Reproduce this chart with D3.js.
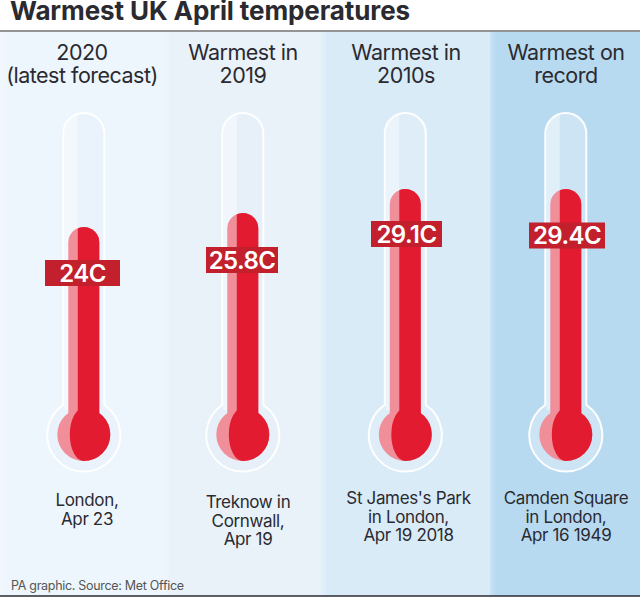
<!DOCTYPE html>
<meta charset="utf-8">
<style>
html, body { margin: 0; background: #fff; }
svg { display: block; }
text { font-family: Inter, "Liberation Sans", sans-serif; fill: #2a2a30; }
.title { font-size: 26px; font-weight: 700; letter-spacing: -0.1px; }
.head { font-size: 21.5px; font-weight: 400; text-anchor: middle; letter-spacing: -0.5px; }
.place { font-size: 17px; font-weight: 400; text-anchor: middle; letter-spacing: -0.35px; }
.temp { font-size: 24px; font-weight: 600; text-anchor: middle; fill: #fff; letter-spacing: -0.6px; }
.source { font-size: 12.5px; fill: #555; letter-spacing: -0.3px; }
</style>

<svg class="chart" width="640" height="600"></svg>
<script src="https://d3js.org/d3.v7.min.js"></script>

<script>

var categories = ["2020", "2019", "2010s", "record"];
var temps = [24, 25.8, 29.1, 29.4];
var tempLabels = ["24C", "25.8C", "29.1C", "29.4C"];
var headLines = [
  ["2020", "(latest forecast)"],
  ["Warmest in", "2019"],
  ["Warmest in", "2010s"],
  ["Warmest on", "record"]
];
var placeLines = [
  ["London,", "Apr 23"],
  ["Treknow in", "Cornwall,", "Apr 19"],
  ["St James's Park", "in London,", "Apr 19 2018"],
  ["Camden Square", "in London,", "Apr 16 1949"]
];

var width = 640, panelTop = 32, panelBottom = 596;
var bulbY = 434.5, bulbR = 26.5, ringR = 36.5, glassW = 20.5, glassTop = 113;
var tubeW = 15.5, tubeBottom = 420;

// panels and thermometers are not quite evenly spaced in the picture
var panelLeft = d3.scaleOrdinal().domain(categories).range([0, 166, 321, 490]);
var panelRight = d3.scaleOrdinal().domain(categories).range([166, 321, 490, width]);
var panelFill = d3.scaleOrdinal().domain(categories).range(["#eef6fd", "#e9f1f9", "#daebf8", "#b8daf1"]);
var cx = d3.scaleOrdinal().domain(categories).range([83.8, 242.8, 405.3, 565.8]);
var headX = d3.scaleOrdinal().domain(categories).range([82, 243, 406, 566]);
var placeX = d3.scaleOrdinal().domain(categories).range([87, 248, 408.5, 566]);
var placeY = d3.scaleOrdinal().domain(categories).range([506, 508, 504, 504]);
var tagLeft = d3.scaleOrdinal().domain(categories).range([45, 206, 371, 529]);
var tagRight = d3.scaleOrdinal().domain(categories).range([120, 278, 442, 605]);
var tagDrop = d3.scaleOrdinal().domain(categories).range([33, 34, 32, 33.5]);

// the graphic is not strictly linear, the two top values share one level
var y = d3.scaleLinear().domain([24, 25.8, 29.1, 29.4]).range([227, 213, 189, 189]);

var svg = d3.select(".chart");
var defs = svg.append("defs");

var lead = defs.append("linearGradient").attr("id", "edge");
lead.append("stop").attr("offset", "0").attr("stop-color", "#fff").attr("stop-opacity", 0.25);
lead.append("stop").attr("offset", "0.04").attr("stop-color", "#fff").attr("stop-opacity", 0);

svg.append("text").attr("class", "title").attr("x", 10).attr("y", 20).text("Warmest UK April temperatures");

var panels = svg.selectAll("g.panel")
    .data(categories)
  .enter().append("g")
    .attr("class", "panel");

panels.append("rect")
    .attr("x", panelLeft)
    .attr("y", panelTop)
    .attr("width", function(c) { return panelRight(c) - panelLeft(c); })
    .attr("height", panelBottom - panelTop)
    .attr("fill", panelFill);

panels.append("rect")
    .attr("x", panelLeft)
    .attr("y", panelTop)
    .attr("width", function(c) { return panelRight(c) - panelLeft(c); })
    .attr("height", panelBottom - panelTop)
    .attr("fill", "url(#edge)");

svg.append("line").attr("x1", 0).attr("x2", width).attr("y1", 31).attr("y2", 31)
    .attr("stroke", "#2a2a30").attr("stroke-width", 1.2);
svg.append("line").attr("x1", 0).attr("x2", width).attr("y1", panelBottom).attr("y2", panelBottom)
    .attr("stroke", "#2a2a30").attr("stroke-width", 1.4);

// glass outline, tube running into the bulb ring
function glassPath(c) {
  var x = cx(c), cy = bulbY + 0.5;
  var dy = Math.sqrt(ringR * ringR - glassW * glassW);
  return "M" + (x - glassW) + "," + (cy - dy) +
    "V" + (glassTop + glassW) +
    "A" + glassW + "," + glassW + " 0 0 1 " + (x + glassW) + "," + (glassTop + glassW) +
    "V" + (cy - dy) +
    "A" + ringR + "," + ringR + " 0 1 1 " + (x - glassW) + "," + (cy - dy) + "Z";
}

panels.append("path")
    .attr("d", glassPath)
    .attr("fill", "#e4eff8")
    .attr("fill-opacity", 0.45)
    .attr("stroke", "#fff")
    .attr("stroke-opacity", 0.95)
    .attr("stroke-width", 2);

// lighter reflection on the left of the glass
panels.append("path")
    .attr("d", function(c) {
      var x = cx(c) - 6, l = cx(c) - glassW + 1, t = glassTop + 1;
      return "M" + l + ",410V" + (t + 19) + "A19.5,19.5 0 0 1 " + x + "," + t + "V410Z";
    })
    .attr("fill", "#fff")
    .attr("fill-opacity", 0.4);

// mercury
function tubePath(c, d) {
  var x = cx(c), t = y(d);
  return "M" + (x - tubeW) + "," + tubeBottom +
    "V" + (t + tubeW) +
    "A" + tubeW + "," + tubeW + " 0 0 1 " + (x + tubeW) + "," + (t + tubeW) +
    "V" + tubeBottom + "Z";
}

defs.selectAll("clipPath")
    .data(categories)
  .enter().append("clipPath")
    .attr("id", function(c, i) { return "lit" + i; })
  .append("rect")
    .attr("x", function(c) { return cx(c) - 6; })
    .attr("y", 100)
    .attr("width", 60)
    .attr("height", 400);

var red = "#e31b30", pale = "#f08e9a";

panels.append("circle")
    .attr("cx", cx)
    .attr("cy", bulbY)
    .attr("r", bulbR)
    .attr("fill", pale);

panels.append("path")
    .attr("d", function(c, i) { return tubePath(c, temps[i]); })
    .attr("fill", pale);

panels.append("path")
    .attr("d", function(c, i) { return tubePath(c, temps[i]); })
    .attr("fill", red)
    .attr("clip-path", function(c, i) { return "url(#lit" + i + ")"; });

panels.append("path")
    .attr("d", function(c) {
      var x = cx(c), r = bulbR;
      return "M" + x + "," + (bulbY - r) +
        "A" + r + "," + r + " 0 0 1 " + x + "," + (bulbY + r) +
        "A14," + r + " 0 0 1 " + x + "," + (bulbY - r) + "Z";
    })
    .attr("fill", red);

// value tags
var tagH = 26;

panels.append("rect")
    .attr("x", tagLeft)
    .attr("y", function(c, i) { return y(temps[i]) + tagDrop(c); })
    .attr("width", function(c) { return tagRight(c) - tagLeft(c); })
    .attr("height", tagH)
    .attr("fill", "#c2202c");

panels.append("text")
    .attr("class", "temp")
    .attr("x", function(c) { return (tagLeft(c) + tagRight(c)) / 2; })
    .attr("y", function(c, i) { return y(temps[i]) + tagDrop(c) + 21.5; })
    .text(function(c, i) { return tempLabels[i]; });

// header and place text
panels.each(function(c, i) {
  var g = d3.select(this);
  g.selectAll("text.head")
      .data(headLines[i])
    .enter().append("text")
      .attr("class", "head")
      .attr("x", headX(c))
      .attr("y", function(d, j) { return 60 + j * 23; })
      .text(function(d) { return d; });
  g.selectAll("text.place")
      .data(placeLines[i])
    .enter().append("text")
      .attr("class", "place")
      .attr("x", placeX(c))
      .attr("y", function(d, j) { return placeY(c) + j * 18.5; })
      .text(function(d) { return d; });
});

svg.append("text").attr("class", "source").attr("x", 11).attr("y", 590).text("PA graphic. Source: Met Office");

</script>
